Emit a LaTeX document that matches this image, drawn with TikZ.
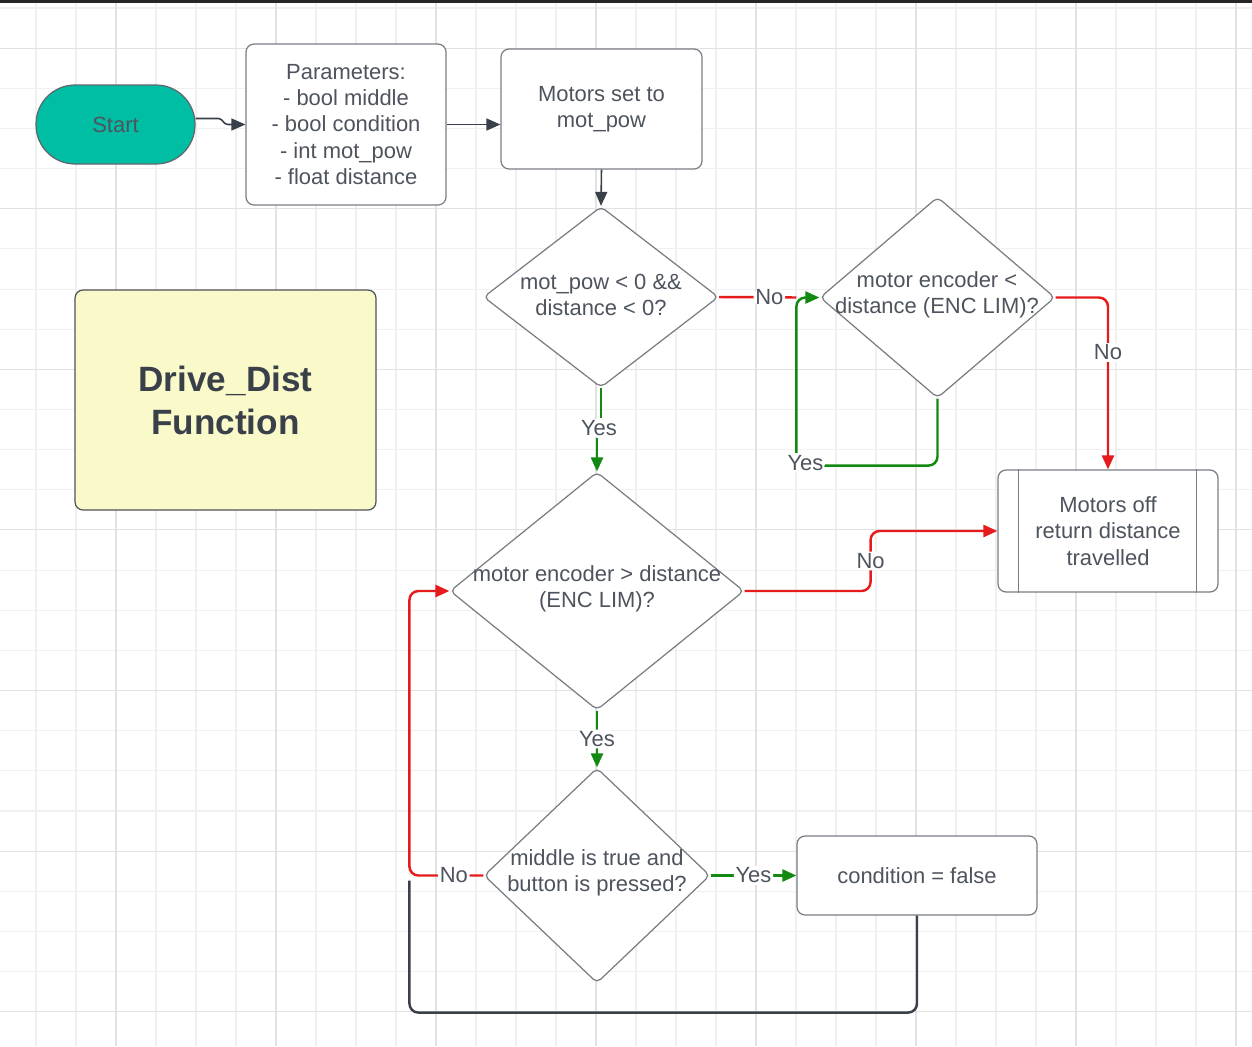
\documentclass[tikz,border=0pt]{standalone}
\usepackage{fontspec}
\setmainfont{Liberation Sans}
\usetikzlibrary{arrows.meta,shapes.geometric}
\definecolor{txt}{RGB}{78,84,94}
\definecolor{edge}{RGB}{120,125,132}
\definecolor{dark}{RGB}{58,64,74}
\definecolor{nored}{RGB}{230,28,28}
\definecolor{yesgreen}{RGB}{18,138,18}
\definecolor{startfill}{RGB}{0,190,164}
\definecolor{note}{RGB}{250,249,202}
\definecolor{gridminor}{RGB}{240,240,240}
\definecolor{gridmajor}{RGB}{226,226,226}

\begin{document}
\begin{tikzpicture}[x=0.02cm, y=-0.02cm, >={Triangle[length=0.28cm,width=0.24cm]},
    every node/.style={font=\fontsize{12.5}{15}\selectfont, text=txt, align=center},
    box/.style={draw=edge, fill=white, rounded corners=0.16cm, line width=0.7pt},
    dec/.style={diamond, draw=edge, fill=white, inner sep=0pt, rounded corners=0.1cm, line width=0.7pt},
    flow/.style={draw=dark, line width=1.4pt, rounded corners=0.18cm},
    thin flow/.style={flow, line width=0.9pt},
    no/.style={flow, draw=nored},
    yes/.style={flow, draw=yesgreen},
    lbl/.style={fill=white, inner sep=1pt}]
\useasboundingbox (0,0) rectangle (1252,1046);
\fill[white] (0,0) rectangle (1252,1046);
\foreach \gx in {36,76,...,1252} \draw[gridminor, line width=0.6pt] (\gx,0) -- (\gx,1046);
\foreach \gy in {8,48.15,...,1046} \draw[gridminor, line width=0.6pt] (0,\gy) -- (1252,\gy);
\foreach \gx in {116,276,...,1252} \draw[gridmajor, line width=0.6pt] (\gx,0) -- (\gx,1046);
\foreach \gy in {48.15,208.75,...,1046} \draw[gridmajor, line width=0.6pt] (0,\gy) -- (1252,\gy);
\fill[black!85] (0,0) rectangle (1252,3);

\node[box, draw=dark!80, fill=startfill, rounded corners=0.78cm, minimum width=3.18cm, minimum height=1.58cm] (start) at (115.5,124.5) {Start};
\node[box, minimum width=4cm, minimum height=3.22cm] (params) at (346,124.5) {Parameters:\\- bool middle\\- bool condition\\- int mot\_pow\\- float distance};
\node[box, minimum width=4.02cm, minimum height=2.4cm] (motors) at (601.5,109) {Motors set to\\mot\_pow};
\node[box, draw=dark!90, fill=note, minimum width=6.02cm, minimum height=4.4cm, font=\bfseries\fontsize{20}{24.5}\selectfont, text=dark] (title) at (225.5,400) {Drive\_Dist\\Function};

\node[dec, minimum width=4.7cm, minimum height=3.62cm] (d1) at (601,297) {};
\node (d1t) at (601,295) {mot\_pow < 0 \&\&\\distance < 0?};
\node[dec, minimum width=4.7cm, minimum height=4.02cm] (d2) at (937.5,297.5) {};
\node (d2t) at (937,295) {motor encoder <\\distance (ENC LIM)?};
\node[dec, minimum width=5.88cm, minimum height=4.76cm] (d3) at (597,591) {};
\node (d3t) at (597,589) {motor encoder > distance\\(ENC LIM)?};
\node[dec, minimum width=4.52cm, minimum height=4.3cm] (d4) at (597,875.5) {};
\node (d4t) at (597,873) {middle is true and\\button is pressed?};

\node[box, minimum width=4.4cm, minimum height=2.44cm] (off) at (1108,531) {Motors off\\return distance\\travelled};
\draw[edge, line width=0.7pt] ([xshift=0.42cm]off.north west) -- ([xshift=0.42cm]off.south west)
    ([xshift=-0.44cm]off.north east) -- ([xshift=-0.44cm]off.south east);
\node[box, minimum width=4.8cm, minimum height=1.58cm] (cond) at (917,875.5) {condition = false};

\draw[thin flow, rounded corners=0.05cm, ->] ([yshift=0.12cm]start.east) -- ++(0.5cm,0) -- ++(0.1cm,-0.12cm) -- (params.west);
\draw[thin flow, ->] (params.east) -- (params.east -| motors.west);
\draw[thin flow, ->] (motors.south) -- (d1.north);
\draw[no] (d1.east) -- node[lbl, pos=0.65]{No} ([xshift=-0.46cm]d2.west);
\draw[yes, ->] (d2.south) -- ++(0,-1.34cm) -| node[lbl, pos=0.5, xshift=0.18cm, yshift=0.06cm]{Yes} ([xshift=-0.46cm]d2.west) -- (d2.west);
\draw[no, ->] (d2.east) -| node[lbl, pos=0.66]{No} (off.north);
\node[lbl] (y1) at (599,428) {Yes};
\draw[yes] (d1.south) -- (d1.south |- y1.north);
\draw[yes, ->] (d3.north |- y1.south) -- (d3.north);
\draw[no, ->] (d3.east) -- ++(2.52cm,0) |- node[lbl, pos=0.25]{No} (off.west);
\draw[yes, ->] (d3.south) -- node[lbl]{Yes} (d4.north);
\draw[yes, ->] (d4.east) -- node[lbl]{Yes} (cond.west);
\draw[flow] (cond.south) -- ++(0,-1.94cm) -| ([xshift=-1.48cm,yshift=-0.1cm]d4.west);
\draw[no, ->] (d4.west) -- node[lbl, pos=0.4]{No} ++(-1.48cm,0) |- (d3.west);

\end{tikzpicture}
\end{document}
